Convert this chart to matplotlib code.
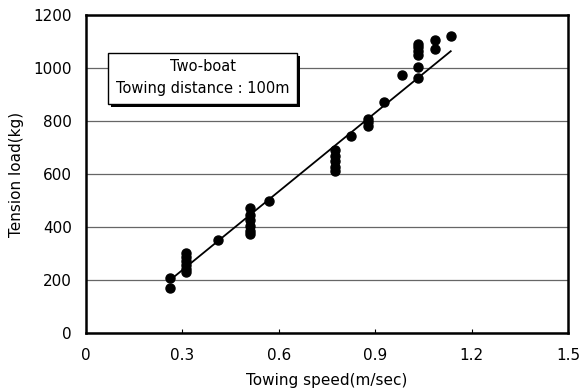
import numpy as np
import matplotlib.pyplot as plt
from matplotlib.patches import Rectangle

plt.rcParams['font.family'] = ['DejaVu Sans']

# measured points (towing speed m/s, tension kg)
speed = [0.26, 0.26,
         0.31, 0.31, 0.31, 0.31, 0.31, 0.31,
         0.41,
         0.51, 0.51, 0.51, 0.51, 0.51, 0.51,
         0.57,
         0.775, 0.775, 0.775, 0.775, 0.775,
         0.825,
         0.878, 0.878, 0.878,
         0.928,
         0.983,
         1.033, 1.033, 1.033, 1.033, 1.033, 1.033,
         1.086, 1.086,
         1.136]
tension = [207, 170,
           302, 285, 270, 255, 240, 230,
           352,
           472, 445, 425, 405, 385, 372,
           497,
           690, 668, 648, 628, 610,
           742,
           808, 795, 782,
           870,
           972,
           1092, 1078, 1062, 1048, 1002, 962,
           1105, 1070,
           1122]

# fitted line end points
fit_x = [0.26, 1.135]
fit_y = [198, 1063]

fig = plt.figure(figsize=(5.85, 3.92), dpi=100)
ax = fig.add_axes([0.147, 0.1505, 0.824, 0.8115])

ax.plot(fit_x, fit_y, color='black', lw=1.3, zorder=3)
ax.plot(speed, tension, 'o', color='black', ms=6.5, zorder=4)

ax.set_xlim(0, 1.5)
ax.set_ylim(0, 1200)
ax.set_xticks([0, 0.3, 0.6, 0.9, 1.2, 1.5])
ax.set_xticklabels(['0', '0.3', '0.6', '0.9', '1.2', '1.5'])
ax.set_yticks([0, 200, 400, 600, 800, 1000, 1200])
ax.yaxis.grid(True, color='#666666', lw=0.9)
ax.set_axisbelow(True)
ax.tick_params(axis='x', direction='in', length=3, labelsize=11, pad=11)
ax.tick_params(axis='y', length=0, labelsize=11, pad=10)
for s in ax.spines.values():
    s.set_linewidth(1.8)

ax.set_xlabel('Towing speed(m/sec)', fontsize=11, labelpad=7)
ax.set_ylabel('Tension load(kg)', fontsize=11, labelpad=7)

# label box with shadow
ax.add_patch(Rectangle((0.051, 0.712), 0.392, 0.16, transform=ax.transAxes,
                       facecolor='black', edgecolor='none', zorder=5))
ax.add_patch(Rectangle((0.046, 0.72), 0.392, 0.16, transform=ax.transAxes,
                       facecolor='white', edgecolor='black', lw=1, zorder=6))
ax.text(0.242, 0.838, 'Two-boat', transform=ax.transAxes, ha='center', va='center',
        fontsize=10.5, zorder=7)
ax.text(0.242, 0.77, 'Towing distance : 100m', transform=ax.transAxes, ha='center',
        va='center', fontsize=10.5, zorder=7)

fig.savefig('out.png', dpi=100)
